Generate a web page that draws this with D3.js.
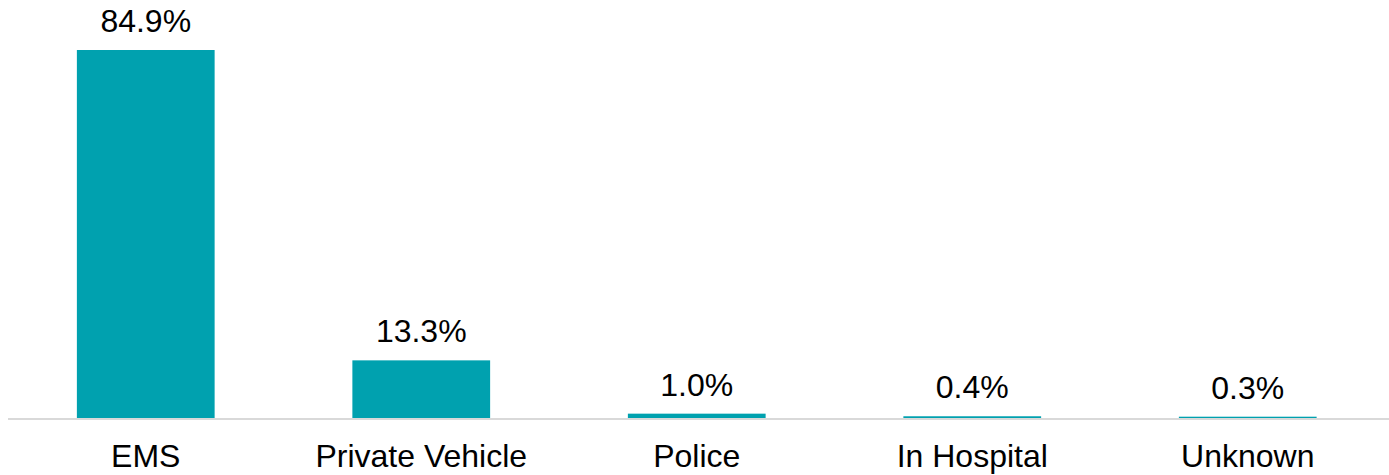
<!DOCTYPE html>
<html>
<head>
<meta charset="utf-8">
<script src="https://cdn.jsdelivr.net/npm/d3@7"></script>
<style>
  body { margin: 0; background: #fff; }
  text { font-family: Arial, "Liberation Sans", sans-serif; fill: #000; }
</style>
</head>
<body>
<script>
// données
const categories = ["EMS", "Private Vehicle", "Police", "In Hospital", "Unknown"];
const values = [84.9, 13.3, 1.0, 0.4, 0.3];
const valueLabels = ["84.9%", "13.3%", "1.0%", "0.4%", "0.3%"];

const data = categories.map((c, i) => ({ category: c, value: values[i], label: valueLabels[i] }));

const width = 1389;
const height = 475;
const baseline = 418;

const svg = d3.select("body").append("svg")
    .attr("width", width)
    .attr("height", height);

// Echelle X
const x = d3.scaleBand()
    .domain(categories)
    .range([8, 1385.5])
    .paddingInner(0.5)
    .paddingOuter(0.25);

// Echelle Y
const y = d3.scaleLinear()
    .domain([0, 84.9])
    .range([baseline, 50]);

// barres
svg.selectAll(".bar")
    .data(data)
    .enter().append("rect")
    .attr("class", "bar")
    .attr("x", d => x(d.category))
    .attr("y", d => y(d.value))
    .attr("width", x.bandwidth())
    .attr("height", d => baseline - y(d.value))
    .attr("fill", "#00a1af");

// axe X
const xAxis = svg.append("g")
    .attr("transform", "translate(0," + (baseline + 1) + ")")
    .call(d3.axisBottom(x).tickSize(0).tickPadding(0));
xAxis.select(".domain").remove();
xAxis.append("line")
    .attr("x1", 8).attr("x2", width)
    .attr("stroke", "#d9d9d9")
    .attr("stroke-width", 2);
xAxis.selectAll(".tick text")
    .attr("y", 48)
    .attr("dy", null)
    .style("font-size", "32px")
    .style("font-family", "Arial, 'Liberation Sans', sans-serif")
    .attr("fill", "#000");

// étiquettes de valeur
svg.selectAll(".label")
    .data(data)
    .enter().append("text")
    .attr("class", "label")
    .attr("x", d => x(d.category) + x.bandwidth() / 2)
    .attr("y", d => y(d.value) - 18)
    .attr("text-anchor", "middle")
    .style("font-size", "32px")
    .text(d => d.label);
</script>
</body>
</html>
